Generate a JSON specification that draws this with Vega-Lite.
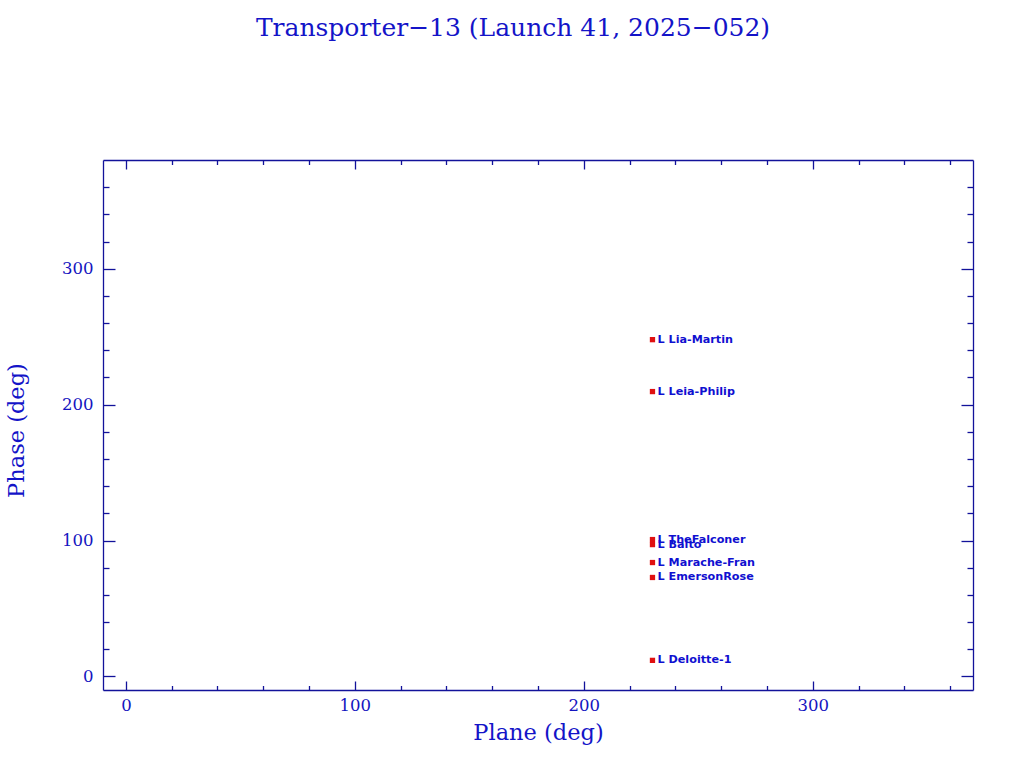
{
  "$schema": "https://vega.github.io/schema/vega-lite/v6.json",
  "width": 870,
  "height": 530,
  "autosize": {"type": "none"},
  "padding": {"left": 103, "top": 160, "right": 51, "bottom": 78},
  "background": "white",
  "title": {
    "text": "Transporter−13 (Launch 41, 2025−052)",
    "font": "DejaVu Serif",
    "fontSize": 25,
    "fontWeight": "normal",
    "color": "#1414c8",
    "anchor": "middle",
    "dx": -25,
    "offset": 118
  },
  "config": {
    "view": {"stroke": null},
    "axis": {
      "domainColor": "#12129a",
      "tickColor": "#12129a",
      "labelColor": "#1414c0",
      "titleColor": "#1414c8",
      "labelFont": "DejaVu Serif",
      "titleFont": "DejaVu Serif",
      "labelFontSize": 16.5,
      "titleFontSize": 22.5,
      "titleFontWeight": "normal",
      "grid": false,
      "domainWidth": 1.3,
      "tickWidth": 1.3
    }
  },
  "data": {
    "values": [
      {"plane": 230, "phase": 247.8, "name": "L Lia-Martin"},
      {"plane": 230, "phase": 209.6, "name": "L Leia-Philip"},
      {"plane": 230, "phase": 100.7, "name": "L TheFalconer"},
      {"plane": 230, "phase": 97.0, "name": "L Balto"},
      {"plane": 230, "phase": 83.8, "name": "L Marache-Fran"},
      {"plane": 230, "phase": 72.8, "name": "L EmersonRose"},
      {"plane": 230, "phase": 11.8, "name": "L Deloitte-1"}
    ]
  },
  "resolve": {"axis": {"x": "independent", "y": "independent"}},
  "layer": [
    {
      "mark": {"type": "point", "shape": "square", "filled": true, "color": "#e01010", "size": 28, "opacity": 1},
      "encoding": {
        "x": {"field": "plane", "type": "quantitative", "scale": {"domain": [-10, 370], "nice": false, "zero": false},
          "axis": {"orient": "bottom", "title": "Plane (deg)", "values": [0, 100, 200, 300], "tickSize": -9, "labelPadding": 16, "titlePadding": 8, "labelFlush": false}},
        "y": {"field": "phase", "type": "quantitative", "scale": {"domain": [-10, 380], "nice": false, "zero": false},
          "axis": {"orient": "left", "title": "Phase (deg)", "values": [0, 100, 200, 300], "tickSize": -12, "labelPadding": 22, "titlePadding": 33, "titleY": 270, "labelFlush": false}}
      }
    },
    {
      "mark": {"type": "text", "align": "left", "baseline": "middle", "dx": 5, "font": "DejaVu Sans", "fontWeight": "bold", "fontSize": 11.2, "color": "#1010d0"},
      "encoding": {
        "x": {"field": "plane", "type": "quantitative",
          "axis": {"orient": "top", "title": null, "labels": false, "values": [0, 100, 200, 300], "tickSize": -9}},
        "y": {"field": "phase", "type": "quantitative",
          "axis": {"orient": "right", "title": null, "labels": false, "values": [0, 100, 200, 300], "tickSize": -12}},
        "text": {"field": "name"}
      }
    },
    {
      "mark": {"type": "point", "opacity": 0},
      "encoding": {
        "x": {"field": "plane", "type": "quantitative",
          "axis": {"orient": "bottom", "title": null, "labels": false, "domain": false, "values": [20, 40, 60, 80, 120, 140, 160, 180, 220, 240, 260, 280, 320, 340, 360], "tickSize": -4.5}},
        "y": {"field": "phase", "type": "quantitative",
          "axis": {"orient": "left", "title": null, "labels": false, "domain": false, "values": [20, 40, 60, 80, 120, 140, 160, 180, 220, 240, 260, 280, 320, 340, 360], "tickSize": -6}}
      }
    },
    {
      "mark": {"type": "point", "opacity": 0},
      "encoding": {
        "x": {"field": "plane", "type": "quantitative",
          "axis": {"orient": "top", "title": null, "labels": false, "domain": false, "values": [20, 40, 60, 80, 120, 140, 160, 180, 220, 240, 260, 280, 320, 340, 360], "tickSize": -4.5}},
        "y": {"field": "phase", "type": "quantitative",
          "axis": {"orient": "right", "title": null, "labels": false, "domain": false, "values": [20, 40, 60, 80, 120, 140, 160, 180, 220, 240, 260, 280, 320, 340, 360], "tickSize": -6}}
      }
    }
  ]
}
